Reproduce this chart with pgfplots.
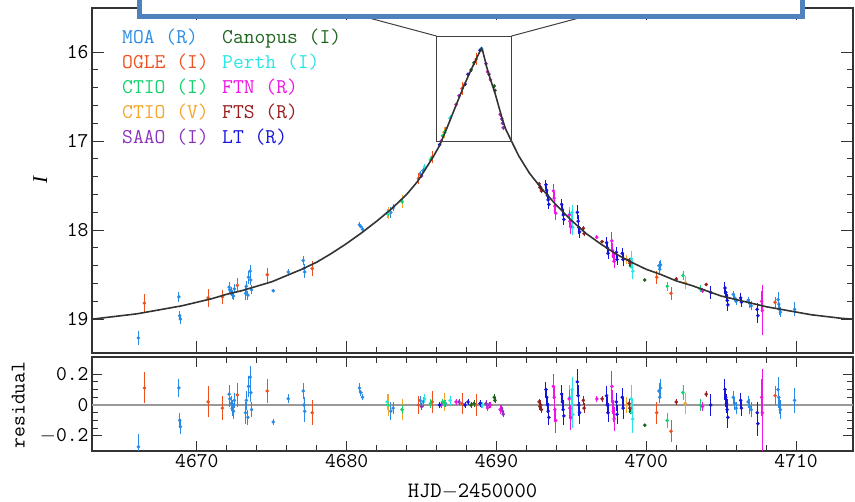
\documentclass[border=0pt]{standalone}
\usepackage{fontspec}
\setmainfont{Liberation Serif}
\newfontfamily\monof{Latin Modern Mono}
\usepackage{pgfplots}
\pgfplotsset{compat=1.18}
\usepackage{pgfplotstable}

\definecolor{moa}{RGB}{40,140,230}
\definecolor{ogle}{RGB}{240,80,30}
\definecolor{ctioi}{RGB}{20,210,110}
\definecolor{ctiov}{RGB}{245,165,40}
\definecolor{saao}{RGB}{140,50,190}
\definecolor{canopus}{RGB}{30,100,30}
\definecolor{perth}{RGB}{40,230,230}
\definecolor{ftn}{RGB}{240,20,230}
\definecolor{fts}{RGB}{150,30,30}
\definecolor{lt}{RGB}{20,20,220}
\definecolor{boxblue}{RGB}{79,129,189}

\newcommand{\lab}{\monof\fontsize{21bp}{24bp}\selectfont}
\newcommand{\leg}{\monof\fontsize{21bp}{24bp}\selectfont}

\pgfplotstableread{
d I r e
4666.10 19.21 -0.27 0.08
4668.80 18.75 0.11 0.06
4668.85 18.96 -0.10 0.05
4668.90 19.00 -0.14 0.05
4672.15 18.64 0.07 0.06
4672.20 18.67 0.04 0.05
4672.30 18.69 0.01 0.05
4672.35 18.72 -0.02 0.05
4672.45 18.74 -0.04 0.05
4672.50 18.66 0.03 0.05
4673.25 18.71 -0.05 0.07
4673.30 18.63 0.03 0.06
4673.40 18.73 -0.08 0.05
4673.45 18.53 0.12 0.07
4673.55 18.46 0.18 0.07
4673.60 18.56 0.08 0.06
4673.65 18.67 -0.03 0.05
4675.10 18.68 -0.11 0.02
4676.10 18.47 0.04 0.03
4677.10 18.34 0.09 0.05
4677.15 18.43 0.00 0.05
4677.20 18.47 -0.04 0.07
4680.85 17.94 0.11 0.03
4680.95 17.96 0.08 0.02
4681.05 17.99 0.05 0.02
4682.95 17.80 -0.04 0.06
4683.10 17.75 -0.02 0.04
4684.90 17.37 0.03 0.03
4685.10 17.33 0.02 0.03
4686.60 16.86 0.01 0.02
4689.00 15.96 0.00 0.02
4700.85 18.40 0.09 0.05
4700.90 18.44 0.05 0.04
4700.95 18.39 0.11 0.06
4705.80 18.72 0.05 0.04
4705.90 18.76 0.01 0.04
4706.00 18.80 -0.02 0.04
4706.80 18.79 0.02 0.04
4706.90 18.82 -0.01 0.05
4707.00 18.85 -0.03 0.05
4708.80 18.78 0.10 0.08
4708.85 18.83 0.05 0.07
4708.90 18.89 0.00 0.06
4708.95 18.92 -0.03 0.06
4709.90 18.89 0.03 0.08
}\moa

\pgfplotstableread{
d I r e
4666.50 18.82 0.11 0.10
4670.75 18.76 0.02 0.10
4671.70 18.75 -0.02 0.08
4672.70 18.62 0.065 0.08
4674.70 18.50 0.09 0.08
4677.70 18.43 -0.05 0.08
4684.80 17.42 0.00 0.06
4685.70 17.18 0.02 0.07
4687.70 16.41 0.01 0.07
4688.65 16.08 0.00 0.07
4700.70 18.53 -0.05 0.07
4701.65 18.71 -0.17 0.07
4708.60 18.81 0.06 0.06
}\ogle

\pgfplotstableread{
d I r e
4682.75 17.82 0.00 0.03
4683.70 17.68 -0.03 0.03
4685.60 17.21 0.01 0.03
4686.40 16.94 0.02 0.02
4686.55 16.90 0.01 0.02
4701.40 18.63 -0.10 0.05
4702.45 18.51 0.08 0.05
4703.60 18.66 0.00 0.04
}\ctioi

\pgfplotstableread{
d I r e
4682.80 17.81 0.00 0.07
4683.70 17.68 -0.03 0.07
4686.50 16.90 0.02 0.06
4698.70 18.33 0.00 0.05
4702.60 18.59 0.01 0.07
}\ctiov

\pgfplotstableread{
d I r e
4685.00 17.39 -0.01 0.02
4687.50 16.49 0.02 0.02
4689.30 16.13 0.01 0.02
4689.50 16.25 0.00 0.02
4690.35 16.75 -0.02 0.02
4690.40 16.80 -0.04 0.02
4690.45 16.85 -0.06 0.02
}\saao

\pgfplotstableread{
d I r e
4688.30 16.20 0.00 0.02
4688.50 16.12 0.01 0.02
4689.85 16.38 0.05 0.02
4689.90 16.43 0.03 0.02
4698.95 18.40 -0.04 0.02
4699.90 18.56 -0.13 0.01
}\canopus

\pgfplotstableread{
d I r e
4682.70 17.81 0.02 0.05
4685.20 17.29 0.04 0.03
4686.90 16.74 0.03 0.03
4689.05 15.98 0.00 0.02
4694.90 17.82 0.05 0.08
4695.00 17.89 0.00 0.10
4695.05 17.80 0.10 0.08
4695.10 17.97 -0.06 0.09
4699.00 18.32 0.04 0.09
4699.05 18.42 -0.05 0.09
4699.10 18.46 -0.09 0.09
}\perth

\pgfplotstableread{
d I r e
4686.30 17.00 0.00 0.02
4687.30 16.59 0.02 0.02
4689.40 16.22 -0.02 0.02
4689.60 16.31 0.00 0.02
4690.25 16.70 -0.03 0.03
4693.80 17.56 0.12 0.08
4693.85 17.64 0.05 0.07
4693.90 17.73 -0.03 0.08
4693.95 17.81 -0.10 0.08
4694.85 17.83 0.04 0.06
4694.90 17.90 -0.02 0.07
4694.95 17.96 -0.08 0.08
4696.70 18.08 0.04 0.02
4697.70 18.12 0.12 0.10
4697.75 18.23 0.02 0.08
4697.80 18.29 -0.04 0.07
4697.85 18.35 -0.09 0.08
4703.75 18.68 -0.01 0.03
4707.70 18.80 0.05 0.12
4707.75 18.90 -0.05 0.28
}\ftn

\pgfplotstableread{
d I r e
4692.85 17.48 0.02 0.02
4692.90 17.52 -0.01 0.02
4692.95 17.52 0.00 0.03
4693.00 17.56 -0.03 0.02
4695.80 17.98 0.03 0.03
4695.85 18.04 -0.02 0.03
4697.05 18.13 0.04 0.02
4698.85 18.34 0.01 0.03
4698.90 18.37 -0.02 0.03
4702.00 18.55 0.02 0.02
4704.00 18.61 0.07 0.02
}\fts

\pgfplotstableread{
d I r e
4686.20 17.04 0.00 0.02
4687.90 16.36 0.00 0.02
4688.10 16.25 0.02 0.02
4688.90 15.98 0.01 0.02
4693.30 17.49 0.10 0.05
4693.35 17.55 0.05 0.05
4693.40 17.61 0.00 0.05
4693.45 17.66 -0.04 0.05
4693.50 17.71 -0.08 0.05
4694.35 17.71 0.07 0.06
4694.40 17.77 0.02 0.06
4694.45 17.83 -0.03 0.06
4694.50 17.88 -0.07 0.06
4695.40 17.80 0.15 0.08
4695.45 17.90 0.06 0.07
4695.50 17.97 0.00 0.07
4695.55 18.02 -0.05 0.07
4697.35 18.14 0.06 0.06
4697.40 18.20 0.00 0.05
4697.45 18.26 -0.05 0.06
4698.00 18.25 0.02 0.06
4698.05 18.33 -0.06 0.06
4698.40 18.26 0.05 0.06
4698.45 18.33 -0.02 0.07
4704.30 18.70 0.00 0.07
4705.25 18.65 0.10 0.07
4705.30 18.70 0.05 0.06
4705.35 18.74 0.01 0.06
4705.40 18.79 -0.03 0.07
4705.45 18.84 -0.08 0.07
4706.30 18.76 0.03 0.05
4706.35 18.81 -0.02 0.05
4707.40 18.89 -0.05 0.07
4707.45 18.96 -0.12 0.08
}\lt

\pgfplotsset{
  base/.style={
    scale only axis, width=761bp, xmin=4663, xmax=4713.8,
    clip mode=individual,
    axis line style={draw=black!80, line width=1.3bp},
    every tick/.style={draw=black!80, line width=1bp},
    tick align=inside,
    xtick={4670,4680,4690,4700,4710}, minor x tick num=4,
    tick label style={font=\lab},
    /pgf/number format/assume math mode=true,
    /pgf/number format/1000 sep={},
  },
  ser/.style={only marks, mark=*, mark size=1.6bp, color=#1, draw=#1, fill=#1,
    error bars/.cd, y dir=both, y explicit,
    error bar style={line width=0.9bp, draw=#1},
    error mark=none},
}

\begin{document}
\begin{tikzpicture}
\path[use as bounding box] (0,0) rectangle (855bp,502bp);

% upper panel
\begin{axis}[base, at={(92bp,149bp)}, anchor=south west, height=345bp,
  ymin=15.505, ymax=19.38, y dir=reverse,
  ytick={16,17,18,19}, minor y tick num=4,
  xticklabels={},
  major tick length=12bp, minor tick length=6bp]
\addplot[ser=moa] table[x=d, y=I, y error=e] \moa;
\addplot[ser=ogle] table[x=d, y=I, y error=e] \ogle;
\addplot[ser=ctiov] table[x=d, y=I, y error=e] \ctiov;
\addplot[ser=ctioi] table[x=d, y=I, y error=e] \ctioi;
\addplot[ser=saao] table[x=d, y=I, y error=e] \saao;
\addplot[ser=canopus] table[x=d, y=I, y error=e] \canopus;
\addplot[ser=perth] table[x=d, y=I, y error=e] \perth;
\addplot[ser=ftn] table[x=d, y=I, y error=e] \ftn;
\addplot[ser=fts] table[x=d, y=I, y error=e] \fts;
\addplot[ser=lt] table[x=d, y=I, y error=e] \lt;
\addplot[black!80, line width=1.6bp] coordinates {
(4663.0,19.00) (4664,18.98) (4665,18.96) (4666,18.94) (4667,18.91) (4668,18.88)
(4669,18.85) (4670,18.81) (4671,18.77) (4672,18.72) (4673,18.68) (4674,18.63)
(4675,18.58) (4676,18.51) (4677,18.44) (4678,18.36) (4679,18.26) (4680,18.15)
(4681,18.03) (4682,17.90) (4683,17.76) (4684,17.60) (4684.7,17.46) (4685.2,17.33)
(4685.8,17.17) (4686.2,17.05) (4686.7,16.85) (4687.2,16.64) (4687.8,16.39)
(4688.3,16.20) (4688.7,16.06) (4688.9,15.99) (4689.0,15.96) (4689.1,16.00) (4689.35,16.17)
(4689.6,16.31) (4689.9,16.46) (4690.35,16.73) (4690.6,16.86) (4691.0,17.00) (4691.5,17.17)
(4692.2,17.36) (4693,17.53) (4694,17.72) (4695,17.89) (4696,18.04) (4697,18.16)
(4698,18.27) (4699,18.36) (4700,18.44) (4701,18.50) (4702,18.57) (4703,18.62)
(4704,18.68) (4705,18.74) (4706,18.78) (4707,18.82) (4708,18.86) (4709,18.89)
(4710,18.92) (4711,18.95) (4712,18.97) (4713,18.99) (4713.8,19.00)};
\draw[black!75, line width=1bp] (axis cs:4686,17) rectangle (axis cs:4691,15.82);
\draw[black!75, line width=1bp] (axis cs:4686,15.82) -- (axis cs:4680.0,15.55);
\draw[black!75, line width=1bp] (axis cs:4691,15.82) -- (axis cs:4697.0,15.55);
\node[rotate=90, font=\fontsize{21bp}{24bp}\selectfont\itshape] at (axis description cs:-0.068,0.5) {I};
\end{axis}

% lower panel
\begin{axis}[base, at={(92bp,51bp)}, anchor=south west, height=94bp,
  ymin=-0.297, ymax=0.31,
  ytick={-0.2,0,0.2}, yticklabels={$-$0.2,0,0.2}, minor y tick num=3,
  major tick length=10bp, minor tick length=6bp]
\addplot[gray!80, line width=1.2bp] coordinates {(4663,0) (4713.8,0)};
\addplot[ser=moa] table[x=d, y=r, y error=e] \moa;
\addplot[ser=ogle] table[x=d, y=r, y error=e] \ogle;
\addplot[ser=ctiov] table[x=d, y=r, y error=e] \ctiov;
\addplot[ser=ctioi] table[x=d, y=r, y error=e] \ctioi;
\addplot[ser=saao] table[x=d, y=r, y error=e] \saao;
\addplot[ser=canopus] table[x=d, y=r, y error=e] \canopus;
\addplot[ser=perth] table[x=d, y=r, y error=e] \perth;
\addplot[ser=ftn] table[x=d, y=r, y error=e] \ftn;
\addplot[ser=fts] table[x=d, y=r, y error=e] \fts;
\addplot[ser=lt] table[x=d, y=r, y error=e] \lt;
\node[rotate=90, font=\lab] at (axis description cs:-0.097,0.49) {residual};
\end{axis}

\node[anchor=base, inner sep=0, font=\monof\fontsize{22bp}{24bp}\selectfont] at (472.5bp,5bp) {HJD$-$2450000};

% overlay box
\draw[draw=boxblue, line width=5bp, fill=white] (139bp,485.5bp) rectangle (802bp,530bp);

% legend
\node[anchor=base west, inner sep=0, font=\leg, text=moa] at (122bp,458.7bp) {MOA (R)};
\node[anchor=base west, inner sep=0, font=\leg, text=ogle] at (122bp,433.7bp) {OGLE (I)};
\node[anchor=base west, inner sep=0, font=\leg, text=ctioi] at (122bp,408.7bp) {CTIO (I)};
\node[anchor=base west, inner sep=0, font=\leg, text=ctiov] at (122bp,383.7bp) {CTIO (V)};
\node[anchor=base west, inner sep=0, font=\leg, text=saao] at (122bp,358.7bp) {SAAO (I)};
\node[anchor=base west, inner sep=0, font=\leg, text=canopus] at (222bp,458.7bp) {Canopus (I)};
\node[anchor=base west, inner sep=0, font=\leg, text=perth] at (222bp,433.7bp) {Perth (I)};
\node[anchor=base west, inner sep=0, font=\leg, text=ftn] at (222bp,408.7bp) {FTN (R)};
\node[anchor=base west, inner sep=0, font=\leg, text=fts] at (222bp,383.7bp) {FTS (R)};
\node[anchor=base west, inner sep=0, font=\leg, text=lt] at (222bp,358.7bp) {LT (R)};
\end{tikzpicture}
\end{document}
